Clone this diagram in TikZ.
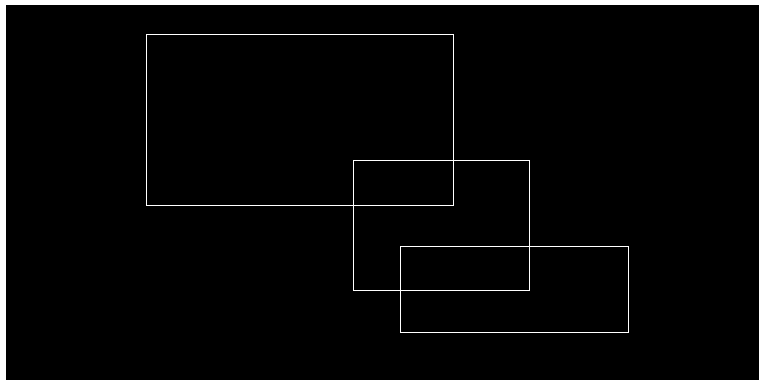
\documentclass[tikz,border=0pt]{standalone}
\begin{document}
\begin{tikzpicture}[x=1pt,y=-1pt,
  frame/.style={draw=white,line width=1.4pt}]
\useasboundingbox (0,0) rectangle (759,381);
\fill[white] (0,0) rectangle (759,381);
\fill[black] (6,5) rectangle (759,380);
\node[frame,minimum width=307pt,minimum height=171pt,inner sep=0pt,anchor=north west] (r1) at (146,34) {};
\node[frame,minimum width=176pt,minimum height=130pt,inner sep=0pt,anchor=north west] (r2) at (353,160) {};
\node[frame,minimum width=228pt,minimum height=86pt,inner sep=0pt,anchor=north west] (r3) at (400,246) {};
\end{tikzpicture}
\end{document}
